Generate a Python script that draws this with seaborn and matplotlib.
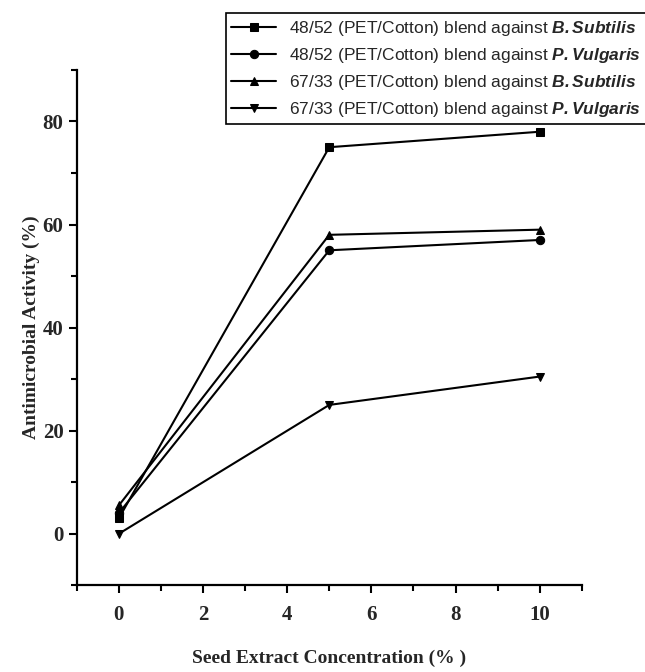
import pandas as pd
import seaborn as sns
import matplotlib.pyplot as plt
from matplotlib.ticker import MultipleLocator

concentration = [0, 5, 10]
series_names = [
    r"48/52 (PET/Cotton) blend against $\mathbfit{B{.}Subtilis}$",
    r"48/52 (PET/Cotton) blend against $\mathbfit{P{.}Vulgaris}$",
    r"67/33 (PET/Cotton) blend against $\mathbfit{B{.}Subtilis}$",
    r"67/33 (PET/Cotton) blend against $\mathbfit{P{.}Vulgaris}$",
]
pet48_bsub = [3, 75, 78]
pet48_pvul = [4, 55, 57]
pet67_bsub = [5.5, 58, 59]
pet67_pvul = [0, 25, 30.5]

rows = []
for name, vals in zip(series_names, [pet48_bsub, pet48_pvul, pet67_bsub, pet67_pvul]):
    for c, v in zip(concentration, vals):
        rows.append({"conc": c, "activity": v, "series": name})
df = pd.DataFrame(rows)

sns.set_theme(style="ticks")
plt.rcParams["mathtext.fontset"] = "custom"
plt.rcParams["mathtext.it"] = "Liberation Sans:italic"
plt.rcParams["mathtext.bf"] = "Liberation Sans:bold"
plt.rcParams["mathtext.bfit"] = "Liberation Sans:italic:bold"

fig = plt.figure(figsize=(6.45, 6.72), dpi=100)
ax = fig.add_axes([0.119, 0.129, 0.783, 0.767])

sns.lineplot(
    data=df, x="conc", y="activity", hue="series", style="series",
    palette=["black"] * 4, markers=["s", "o", "^", "v"], dashes=False,
    markersize=6, linewidth=1.5, markeredgecolor="black", ax=ax,
)

ax.set_xlim(-1, 11)
ax.set_ylim(-10, 90)
ax.xaxis.set_minor_locator(MultipleLocator(1))
ax.yaxis.set_minor_locator(MultipleLocator(10))
ax.set_xticks([0, 2, 4, 6, 8, 10])
ax.set_yticks([0, 20, 40, 60, 80])
ax.tick_params(which="major", length=6, width=1.5, color="black")
ax.tick_params(which="minor", length=4, width=1.5, color="black")
ax.tick_params(axis="x", which="major", pad=8)
for lab in ax.get_xticklabels() + ax.get_yticklabels():
    lab.set_fontfamily("Liberation Serif")
    lab.set_fontweight("bold")
    lab.set_fontsize(15)

sns.despine(ax=ax)
for sp in ["left", "bottom"]:
    ax.spines[sp].set_linewidth(1.6)
    ax.spines[sp].set_color("black")

ax.set_xlabel("Seed Extract Concentration (% )", fontfamily="Liberation Serif",
              fontweight="bold", fontsize=14, labelpad=18)
ax.set_ylabel("Antimicrobial Activity (%)", fontfamily="Liberation Serif",
              fontweight="bold", fontsize=14, labelpad=2)

handles, labels = ax.get_legend_handles_labels()
if ax.legend_:
    ax.legend_.remove()
leg = fig.legend(handles, labels, loc="upper left", bbox_to_anchor=(0.337, 0.993),
                 frameon=True, fancybox=False, edgecolor="black", framealpha=1,
                 prop={"family": "Liberation Sans", "size": 12.5},
                 handlelength=2.6, labelspacing=0.47, borderpad=0.3,
                 handletextpad=0.7)
leg.get_frame().set_linewidth(1.2)

fig.savefig("out.png", dpi=100)
